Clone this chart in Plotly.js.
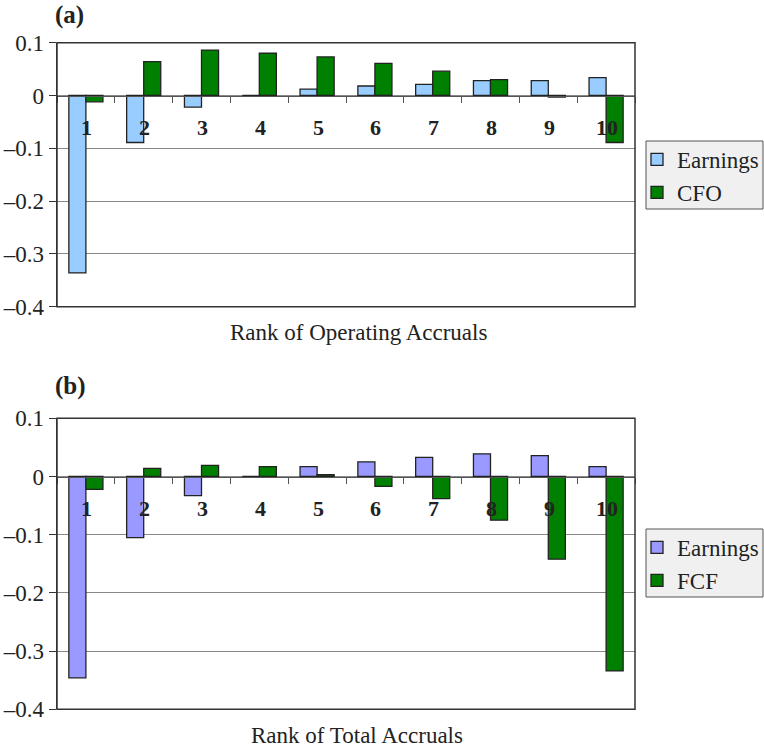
<!DOCTYPE html>
<html>
<head>
<meta charset="utf-8">
<script src="https://cdn.plot.ly/plotly-3.0.1.min.js"></script>
<style>
  html, body { margin: 0; padding: 0; background: #fff; }
  #chart { width: 764px; height: 747px; }
</style>
</head>
<body>
<div id="chart"></div>
<script>
// Decile ranks on the horizontal axis
const ranks = ['1', '2', '3', '4', '5', '6', '7', '8', '9', '10'];

// Panel (a): ranked by operating accruals
const earningsOpAcc = [-0.336, -0.089, -0.022, 0.000, 0.012, 0.018, 0.021, 0.028, 0.028, 0.034];
const cfo           = [-0.012, 0.064, 0.086, 0.080, 0.073, 0.061, 0.046, 0.030, -0.003, -0.089];

// Panel (b): ranked by total accruals
const earningsTotAcc = [-0.346, -0.105, -0.033, 0.000, 0.017, 0.025, 0.033, 0.039, 0.036, 0.017];
const fcf            = [-0.022, 0.014, 0.019, 0.017, 0.003, -0.017, -0.038, -0.075, -0.142, -0.334];

// Value axis ticks
const yTickVals = [0.1, 0, -0.1, -0.2, -0.3, -0.4];
const yTickText = ['0.1', '0', '\u20130.1', '\u20130.2', '\u20130.3', '\u20130.4'];
const yRange = [-0.4, 0.1];

const W = 764, H = 747;
const px = v => v / W;          // pixel column -> paper x
const py = v => 1 - v / H;      // pixel row -> paper y

const SERIF = 'Liberation Serif';
const INK = '#222';
const GREEN = '#008000';

const xDomain = [px(57), px(635)];
const yDomainA = [py(306.7), py(42.7)];
const yDomainB = [py(709.3), py(418.3)];

// paper position of the zero line inside a y domain
const zeroPos = d => d[0] + (0 - yRange[0]) / (yRange[1] - yRange[0]) * (d[1] - d[0]);

const barLine = { color: INK, width: 1.3 };

const traces = [
  { type: 'bar', name: 'Earnings', x: ranks, y: earningsOpAcc, xaxis: 'x', yaxis: 'y',
    legend: 'legend', marker: { color: '#99ccff', line: barLine } },
  { type: 'bar', name: 'CFO', x: ranks, y: cfo, xaxis: 'x', yaxis: 'y',
    legend: 'legend', marker: { color: GREEN, line: barLine } },
  { type: 'bar', name: 'Earnings', x: ranks, y: earningsTotAcc, xaxis: 'x2', yaxis: 'y2',
    legend: 'legend2', marker: { color: '#9999ff', line: barLine } },
  { type: 'bar', name: 'FCF', x: ranks, y: fcf, xaxis: 'x2', yaxis: 'y2',
    legend: 'legend2', marker: { color: GREEN, line: barLine } }
];

function xAxis(yDom) {
  return {
    domain: xDomain, type: 'category', range: [-0.5, 9.5],
    anchor: 'free', position: zeroPos(yDom),
    showline: true, linecolor: '#555', linewidth: 1.5,
    ticks: 'outside', tickson: 'boundaries', ticklen: 6, tickcolor: '#555', tickwidth: 1,
    showticklabels: false, showgrid: false, zeroline: false, fixedrange: true
  };
}

function yAxis(yDom, xName) {
  return {
    domain: yDom, range: yRange, anchor: xName,
    tickmode: 'array', tickvals: yTickVals, ticktext: yTickText,
    ticks: 'outside', ticklen: 7, tickcolor: '#333', tickwidth: 1,
    showline: true, linecolor: '#333', linewidth: 1.5,
    showgrid: true, gridcolor: '#888', gridwidth: 1, zeroline: false,
    tickfont: { family: SERIF, size: 23, color: INK }, fixedrange: true
  };
}

function legendBox(top, bottom) {
  return {
    type: 'rect', xref: 'paper', yref: 'paper', layer: 'below',
    x0: px(646), x1: px(763), y0: py(bottom), y1: py(top),
    fillcolor: '#f0f0f0', line: { color: '#555', width: 1 }
  };
}

function frame(xr, yr) {
  return {
    type: 'rect', xref: xr + ' domain', yref: yr + ' domain', layer: 'above',
    x0: 0, x1: 1, y0: 0, y1: 1, line: { color: '#333', width: 1.5 }
  };
}

function legendSpec(top) {
  return {
    x: px(637), y: py(top), xref: 'paper', yref: 'paper',
    xanchor: 'left', yanchor: 'top', bgcolor: 'rgba(0,0,0,0)', borderwidth: 0,
    font: { family: SERIF, size: 23, color: INK }, itemwidth: 30, tracegroupgap: 0
  };
}

const annotations = [
  { text: '<b>(a)</b>', x: px(53), y: py(15), xref: 'paper', yref: 'paper',
    xanchor: 'left', yanchor: 'middle', showarrow: false, font: { family: SERIF, size: 25, color: INK } },
  { text: '<b>(b)</b>', x: px(53), y: py(386), xref: 'paper', yref: 'paper',
    xanchor: 'left', yanchor: 'middle', showarrow: false, font: { family: SERIF, size: 25, color: INK } },
  { text: 'Rank of Operating Accruals', x: px(358), y: py(332), xref: 'paper', yref: 'paper',
    xanchor: 'center', yanchor: 'middle', showarrow: false, font: { family: SERIF, size: 23, color: INK } },
  { text: 'Rank of Total Accruals', x: px(357), y: py(735), xref: 'paper', yref: 'paper',
    xanchor: 'center', yanchor: 'middle', showarrow: false, font: { family: SERIF, size: 23, color: INK } }
];

// Rank labels sit just under the zero line in both panels (category index positions)
[['x', 'y'], ['x2', 'y2']].forEach(([xr, yr]) => {
  ranks.forEach((r, i) => {
    annotations.push({
      text: '<b>' + r + '</b>', x: i, y: 0, xref: xr, yref: yr,
      xanchor: 'center', yanchor: 'middle', yshift: -32, xshift: 1, showarrow: false,
      font: { family: SERIF, size: 22, color: INK }
    });
  });
});

const layout = {
  width: W, height: H,
  margin: { l: 0, r: 0, t: 0, b: 0, pad: 0 },
  paper_bgcolor: '#fff', plot_bgcolor: '#fff',
  font: { family: SERIF, color: INK },
  barmode: 'group', bargap: 0.41, bargroupgap: 0,
  showlegend: true,
  xaxis: xAxis(yDomainA),
  yaxis: yAxis(yDomainA, 'x'),
  xaxis2: xAxis(yDomainB),
  yaxis2: yAxis(yDomainB, 'x2'),
  legend: legendSpec(138),
  legend2: legendSpec(526),
  shapes: [frame('x', 'y'), frame('x2', 'y2'), legendBox(141, 209), legendBox(529, 597)],
  annotations: annotations
};

Plotly.newPlot('chart', traces, layout, { staticPlot: true, displayModeBar: false });
</script>
</body>
</html>
